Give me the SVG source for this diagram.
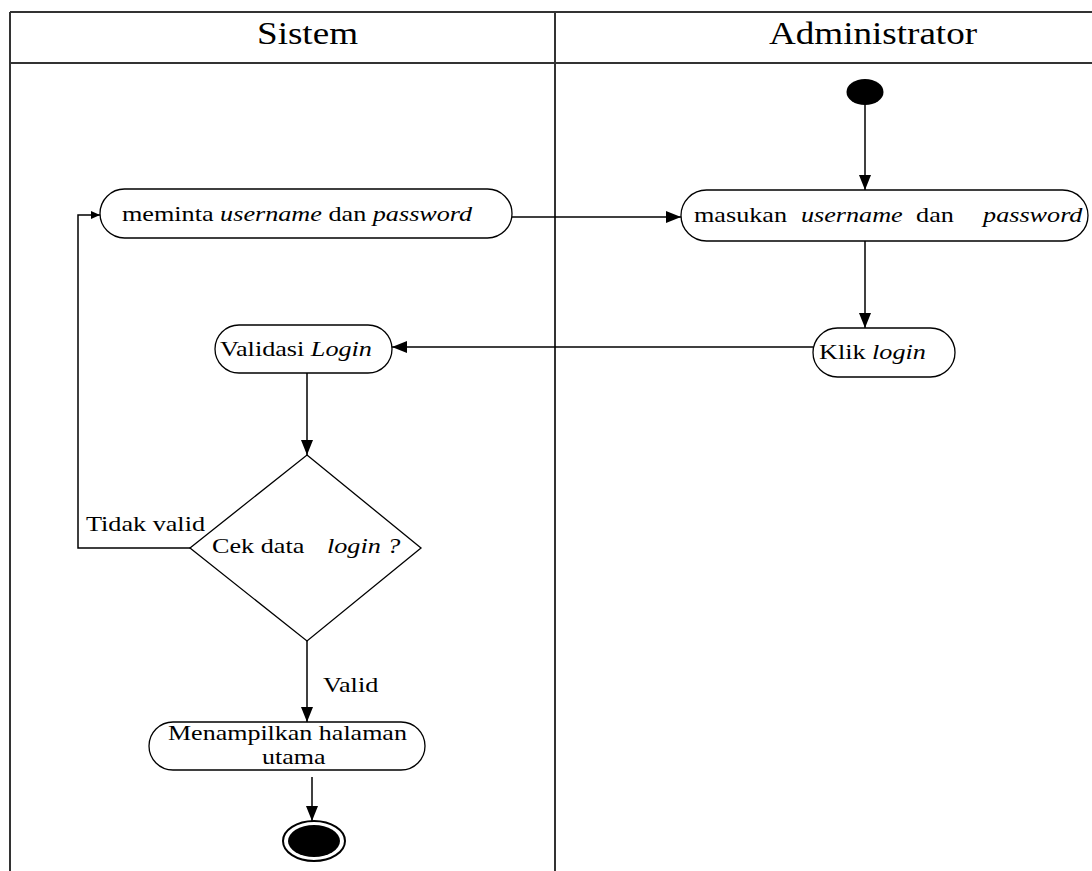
<svg xmlns="http://www.w3.org/2000/svg" width="1092" height="871" viewBox="0 0 1092 871">
  <style>
    .lane { stroke: #333; stroke-width: 2; fill: none; }
    .node { fill: #fff; stroke: #000; stroke-width: 1.3; }
    .flow { stroke: #000; stroke-width: 1.5; fill: none; }
    .t { font-family: "Liberation Serif", "Times New Roman", serif; font-size: 22px; fill: #000; }
    .s { font-family: "Liberation Serif", "Times New Roman", serif; font-size: 20px; fill: #000; }
    .h { font-family: "Liberation Serif", "Times New Roman", serif; font-size: 32px; fill: #000; }
    .i { font-style: italic; }
  </style>
  <defs>
    <marker id="arrow" markerUnits="userSpaceOnUse" markerWidth="16" markerHeight="12" refX="15" refY="6" orient="auto">
      <path d="M0,0 L15,6 L0,12 z" fill="#000"/>
    </marker>
    <marker id="arrowSmall" markerUnits="userSpaceOnUse" markerWidth="10" markerHeight="8" refX="9" refY="4" orient="auto">
      <path d="M0,0 L9,4 L0,8 z" fill="#000"/>
    </marker>
  </defs>

  <rect width="1092" height="871" fill="#fff"/>

  <!-- swimlanes -->
  <g id="lanes">
    <line class="lane" x1="10" y1="12" x2="1092" y2="12"/>
    <line class="lane" x1="10" y1="63" x2="1092" y2="63"/>
    <line class="lane" x1="10" y1="12" x2="10" y2="871"/>
    <line class="lane" x1="555" y1="12" x2="555" y2="871"/>
    <text class="h" text-anchor="middle" transform="translate(307.5,44) scale(1.16,1)">Sistem</text>
    <text class="h" text-anchor="middle" transform="translate(873,44) scale(1.16,1)">Administrator</text>
  </g>

  <!-- connectors -->
  <g id="connectors">
    <line class="flow" x1="865" y1="104" x2="865" y2="190" marker-end="url(#arrow)"/>
    <line class="flow" x1="512" y1="217" x2="681" y2="217" marker-end="url(#arrow)"/>
    <line class="flow" x1="865" y1="241" x2="865" y2="328" marker-end="url(#arrow)"/>
    <line class="flow" x1="813" y1="347" x2="392" y2="347" marker-end="url(#arrow)"/>
    <line class="flow" x1="307" y1="373" x2="307" y2="455" marker-end="url(#arrow)"/>
    <polyline class="flow" points="190,548 78,548 78,215 100,215" marker-end="url(#arrowSmall)"/>
    <line class="flow" x1="307" y1="641" x2="307" y2="722" marker-end="url(#arrow)"/>
    <line class="flow" x1="312" y1="777" x2="312" y2="821" marker-end="url(#arrow)"/>
    <text class="t" transform="translate(86,531) scale(1.19,1)">Tidak valid</text>
    <text class="t" transform="translate(323,692) scale(1.19,1)">Valid</text>
  </g>

  <g id="start">
    <ellipse cx="865" cy="92" rx="18.5" ry="13" fill="#000"/>
  </g>

  <g id="meminta">
    <rect class="node" x="100" y="189" width="412" height="49" rx="24.5"/>
    <text class="t" transform="translate(122,221) scale(1.19,1)">meminta <tspan class="i">username</tspan> dan <tspan class="i">password</tspan></text>
  </g>

  <g id="masukan">
    <rect class="node" x="681" y="190" width="407" height="51" rx="25.5"/>
    <text class="t" transform="translate(694,222) scale(1.19,1)">masukan<tspan class="i" x="89.9">username</tspan><tspan x="186.6">dan</tspan><tspan class="i" x="242.9">password</tspan></text>
  </g>

  <g id="klik">
    <rect class="node" x="813" y="328" width="142" height="49" rx="24.5"/>
    <text class="t" transform="translate(819,359) scale(1.19,1)">Klik <tspan class="i">login</tspan></text>
  </g>

  <g id="validasi">
    <rect class="node" x="215" y="325" width="177" height="48" rx="24"/>
    <text class="t" transform="translate(220,356) scale(1.19,1)">Validasi <tspan class="i">Login</tspan></text>
  </g>

  <g id="cek">
    <polygon class="node" points="307,455 421,548 307,641 190,548"/>
    <text class="t" transform="translate(212,553) scale(1.19,1)">Cek data<tspan class="i" x="96.6">login ?</tspan></text>
  </g>

  <g id="menampilkan">
    <rect class="node" x="149" y="722" width="276" height="48" rx="24"/>
    <text class="s" transform="translate(168,740) scale(1.3,1)">Menampilkan halaman</text>
    <text class="s" transform="translate(262,764) scale(1.3,1)">utama</text>
  </g>

  <g id="end">
    <ellipse cx="314" cy="841" rx="31" ry="20" fill="#fff" stroke="#000" stroke-width="2"/>
    <ellipse cx="314" cy="841" rx="26" ry="16" fill="#000"/>
  </g>
</svg>
